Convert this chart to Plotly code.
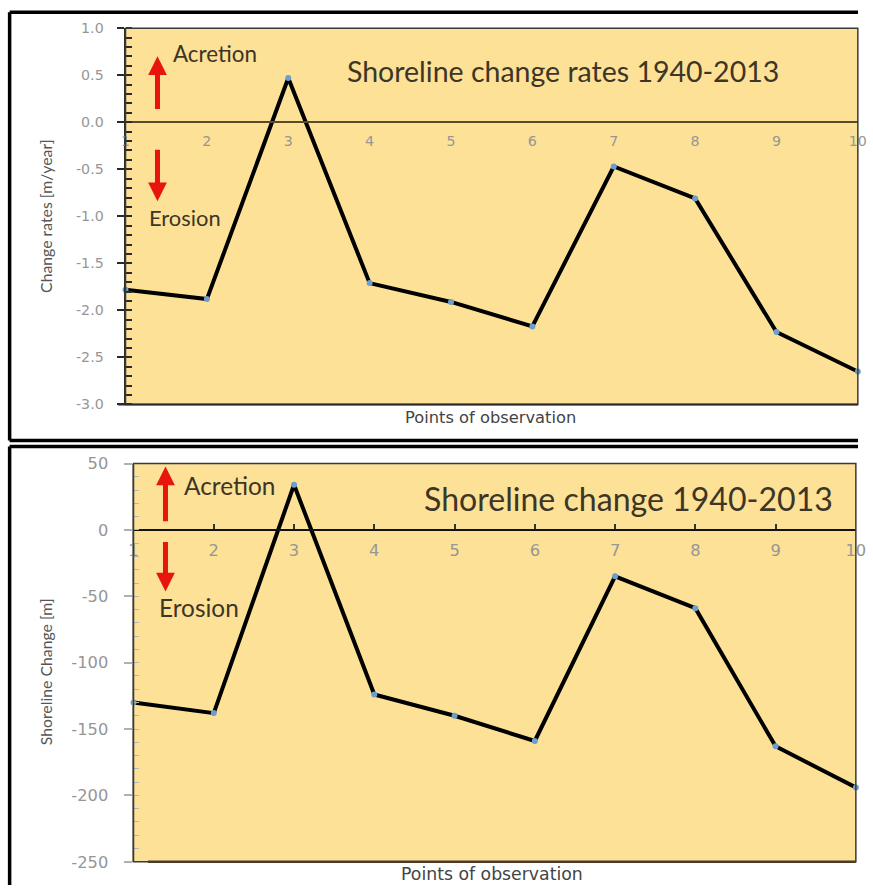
import plotly.graph_objects as go

# Observation points along the shoreline
points = [1, 2, 3, 4, 5, 6, 7, 8, 9, 10]

# Shoreline change rates 1940-2013 [m/year]
rates = [-1.78, -1.88, 0.47, -1.71, -1.91, -2.17, -0.47, -0.81, -2.23, -2.65]

# Net shoreline change 1940-2013 [m]
change = [-130, -138, 34, -124, -140, -159, -35, -59, -163, -194]

rate_ticks = [1.0, 0.5, 0.0, -0.5, -1.0, -1.5, -2.0, -2.5, -3.0]
change_ticks = [50, 0, -50, -100, -150, -200, -250]

# layout is worked out on an 873x891 sheet and laid onto a page of PAGE_W x PAGE_H
# whose html body keeps its default 8px margin
SHEET_W, SHEET_H = 873, 891
PAGE_W, PAGE_H, OFF = 884, 911, 8
SX, SY = PAGE_W / SHEET_W, PAGE_H / SHEET_H
X_GAIN, X_SHIFT = 1.004, 3.5
FS = (SX + SY) / 2
W, H = PAGE_W - 2 * OFF, PAGE_H - 2 * OFF

PLOT_BG = "#FCE196"
TEXT_DARK = "#3d3526"
TICK_GREY = "#969696"

# sheet-pixel frames of the two plot areas: (left, right, top, bottom)
top_box = (125, 858, 27, 403)
bot_box = (133, 856, 462, 860)


def px(x):
    return min(max(((x + X_SHIFT) * X_GAIN * SX - OFF) / W, 0), 1)


def py(y):
    return min(max(1 - (y * SY - OFF) / H, 0), 1)


def xdom(b):
    return [px(b[0]), px(b[1])]


def ydom(b):
    return [py(b[3]), py(b[2])]


def zero_pos(dom, rng):
    # paper position of y=0 inside a y-domain
    return dom[0] + (0 - rng[0]) / (rng[1] - rng[0]) * (dom[1] - dom[0])


def in_box(b, x, y):
    # sheet pixel -> fractions of a plot area's domain
    return (x - b[0]) / (b[1] - b[0]), (b[3] - y) / (b[3] - b[2])


def fs(size):
    return round(size * FS, 1)


top_rng = [min(rate_ticks), max(rate_ticks)]
bot_rng = [min(change_ticks), max(change_ticks)]
top_yd, bot_yd = ydom(top_box), ydom(bot_box)

fig = go.Figure()
fig.add_trace(go.Scatter(
    x=points, y=rates, mode="lines+markers", xaxis="x", yaxis="y",
    line=dict(color="black", width=4),
    marker=dict(color="#6c9fcf", size=6), cliponaxis=False, showlegend=False))
fig.add_trace(go.Scatter(
    x=points, y=change, mode="lines+markers", xaxis="x2", yaxis="y2",
    line=dict(color="black", width=4),
    marker=dict(color="#6c9fcf", size=6), cliponaxis=False, showlegend=False))

tick_font_top = dict(family="DejaVu Sans", size=fs(14), color=TICK_GREY)
tick_font_bot = dict(family="DejaVu Sans", size=fs(16), color=TICK_GREY)

fig.update_layout(
    width=W, height=H,
    margin=dict(l=0, r=0, t=0, b=0),
    paper_bgcolor="white",
    plot_bgcolor=PLOT_BG,
    xaxis=dict(
        domain=xdom(top_box), range=[1, 10], anchor="free",
        position=zero_pos(top_yd, top_rng),
        tickvals=points, ticktext=[str(p) for p in points],
        showline=True, linecolor="#5a4a2c", linewidth=2,
        ticks="", showgrid=False, zeroline=False, ticklabeloverflow="allow",
        tickfont=tick_font_top, ticklabelstandoff=6),
    yaxis=dict(
        domain=top_yd, range=top_rng, anchor="x",
        tickvals=rate_ticks, ticktext=[f"{v:.1f}" for v in rate_ticks],
        showline=True, linecolor="#2a2a2a", linewidth=2,
        ticks="outside", ticklen=7, tickcolor="#2a2a2a", tickwidth=2,
        minor=dict(dtick=0.1, ticks="inside", ticklen=6, tickcolor="#2a2a2a",
                   tickwidth=1.5, showgrid=False),
        showgrid=False, zeroline=False,
        tickfont=tick_font_top, ticklabelstandoff=10),
    xaxis2=dict(
        domain=xdom(bot_box), range=[1, 10], anchor="free",
        position=zero_pos(bot_yd, bot_rng),
        tickvals=points, ticktext=[str(p) for p in points],
        showline=True, linecolor="#111111", linewidth=1.5,
        ticks="inside", ticklen=5, tickcolor="#333333", tickwidth=1.5,
        showgrid=False, zeroline=False, ticklabeloverflow="allow",
        tickfont=tick_font_bot, ticklabelstandoff=6),
    yaxis2=dict(
        domain=bot_yd, range=bot_rng, anchor="x2",
        tickvals=change_ticks, ticktext=[str(v) for v in change_ticks],
        showline=True, linecolor="#9a9a9a", linewidth=2,
        ticks="outside", ticklen=8, tickcolor="#b0b0b0", tickwidth=1.5,
        minor=dict(dtick=10, ticks="inside", ticklen=5, tickcolor="#b5b5b5",
                   tickwidth=1, showgrid=False),
        showgrid=False, zeroline=False,
        tickfont=tick_font_bot, ticklabelstandoff=12),
)

shapes = []
# plot area frames
shapes.append(dict(type="rect", xref="x domain", yref="y domain",
                   x0=0, x1=1, y0=0, y1=1, line=dict(color="#3a3a3a", width=1.5),
                   layer="above"))
shapes.append(dict(type="line", xref="x domain", yref="y domain",
                   x0=-0.01, x1=1, y0=0, y1=0, line=dict(color="#2a2a2a", width=2)))
shapes.append(dict(type="rect", xref="x2 domain", yref="y2 domain",
                   x0=0, x1=1, y0=0, y1=1, line=dict(color="#3a3a3a", width=1.5),
                   layer="above"))
shapes.append(dict(type="line", xref="x2 domain", yref="y2 domain",
                   x0=0.02, x1=1, y0=0, y1=0, line=dict(color="#4a3a28", width=2.5)))


def border(x0, y0, x1, y1):
    shapes.append(dict(type="line", xref="paper", yref="paper",
                       x0=px(x0), y0=py(y0), x1=px(x1), y1=py(y1),
                       line=dict(color="black", width=3.5)))


# panel borders (their right-hand sides run past the sheet edge)
border(9, 11, SHEET_W + 20, 11)
border(9, 11, 9, 439)
border(9, 439, SHEET_W + 20, 439)
border(9, 445, SHEET_W + 20, 445)
border(9, 445, 9, SHEET_H + 20)
fig.update_layout(shapes=shapes)

ann = []


def label(text, xref, yref, x, y, size, xanchor="left", family="Lato",
          color=TEXT_DARK, angle=0):
    ann.append(dict(text=text, xref=xref, yref=yref, x=x, y=y,
                    xanchor=xanchor, yanchor="middle", showarrow=False,
                    textangle=angle, font=dict(family=family, size=fs(size), color=color)))


def arrow(xref, yref, box, x, y_head, y_tail):
    fx, fy = in_box(box, x, y_head)
    ann.append(dict(text="", xref=xref, yref=yref, x=fx, y=fy, ax=0,
                    ay=(y_tail - y_head) * SY,
                    showarrow=True, arrowhead=2, arrowsize=0.75, arrowwidth=5,
                    arrowcolor="#e8150e"))


def boxed(text, xref, yref, box, x, y, size, **kw):
    fx, fy = in_box(box, x, y)
    label(text, xref, yref, fx, fy, size, **kw)


# upper panel
boxed("Shoreline change rates 1940-2013", "x domain", "y domain", top_box,
      563, 70, 28, xanchor="center")
boxed("Acretion", "x domain", "y domain", top_box, 171, 52, 22)
boxed("Erosion", "x domain", "y domain", top_box, 146, 216, 21.5)
arrow("x domain", "y domain", top_box, 157, 55, 108)
arrow("x domain", "y domain", top_box, 157, 200, 148)
label("Change rates [m/year]", "paper", "paper", px(45), py(215), 15.5,
      xanchor="center", color="#555555", angle=-90)
label("Points of observation", "paper", "paper", px(490), py(416), 16,
      xanchor="center", family="DejaVu Sans", color="#444444")

# lower panel
boxed("Shoreline change 1940-2013", "x2 domain", "y2 domain", bot_box,
      628, 497, 31.5, xanchor="center")
boxed("Acretion", "x2 domain", "y2 domain", bot_box, 182, 484, 24)
boxed("Erosion", "x2 domain", "y2 domain", bot_box, 157, 606, 24)
arrow("x2 domain", "y2 domain", bot_box, 165, 465, 520)
arrow("x2 domain", "y2 domain", bot_box, 165, 590, 540)
label("Shoreline Change [m]", "paper", "paper", px(45), py(670), 15.5,
      xanchor="center", color="#555555", angle=-90)
label("Points of observation", "paper", "paper", px(492), py(872), 17,
      xanchor="center", family="DejaVu Sans", color="#444444")

fig.update_layout(annotations=ann)

fig.write_html("out.html")
